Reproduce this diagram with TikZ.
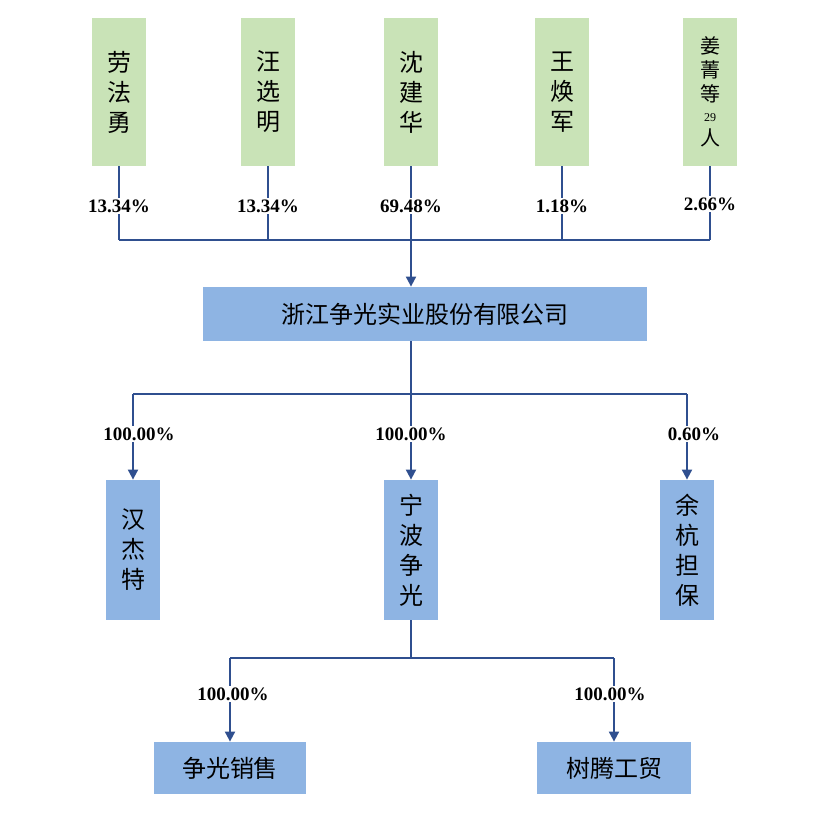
\documentclass[tikz,border=0pt]{standalone}
\usepackage{fontspec}
\setmainfont{Liberation Serif}
\newfontfamily\cjk{Noto Sans CJK SC}
\usetikzlibrary{arrows.meta}
\definecolor{holdgreen}{HTML}{C9E3B7}
\definecolor{firmblue}{HTML}{8EB4E3}
\definecolor{linkblue}{HTML}{2F4F8F}
\tikzset{
  holder/.style={fill=holdgreen,minimum width=27pt,minimum height=74pt,inner sep=0pt,align=center,font=\cjk\fontsize{12}{15}\selectfont},
  firm/.style={fill=firmblue,inner sep=0pt,align=center,font=\cjk\fontsize{12}{15}\selectfont},
  pct/.style={font=\bfseries\fontsize{9.5}{11}\selectfont,fill=white,inner sep=1pt},
  link/.style={draw=linkblue,line width=0.9pt},
  arr/.style={link,-{Triangle[length=5pt,width=5pt]}}
}
\begin{document}
\begin{tikzpicture}[x=0.5pt,y=-0.5pt]
\useasboundingbox (0,0) rectangle (815,821);

% shareholders
\node [holder] (h1) at (119,92) {劳\\法\\勇};
\node [holder] (h2) at (268,92) {汪\\选\\明};
\node [holder] (h3) at (411,92) {沈\\建\\华};
\node [holder] (h4) at (562,92) {王\\焕\\军};
\node [holder,font=\cjk\fontsize{10}{12}\selectfont] (h5) at (710,92) {姜\\菁\\等\\[-2pt]{\fontsize{6}{7}\selectfont\rmfamily 29}\\人};

% main company
\node [firm,minimum width=222pt,minimum height=27pt] (m) at (425,314) {浙江争光实业股份有限公司};

% subsidiaries
\node [firm,minimum width=27pt,minimum height=70pt] (s1) at (133,550) {汉\\杰\\特};
\node [firm,minimum width=27pt,minimum height=70pt] (s2) at (411,550) {宁\\波\\争\\光};
\node [firm,minimum width=27pt,minimum height=70pt] (s3) at (687,550) {余\\杭\\担\\保};
\node [firm,minimum width=76pt,minimum height=26pt] (g1) at (230,768) {争光销售};
\node [firm,minimum width=77pt,minimum height=26pt] (g2) at (614,768) {树腾工贸};

% holdings into main company
\coordinate (bus) at (411,240);
\foreach \h in {h1,h2,h4,h5}
  \draw [link] (\h.south) -- (\h.south |- bus);
\draw [link] (h1.south |- bus) -- (h5.south |- bus);
\draw [arr] (h3.south) -- (m.north -| h3.south);
\node [pct] at (119,206) {13.34\%};
\node [pct] at (268,206) {13.34\%};
\node [pct] at (411,206) {69.48\%};
\node [pct] at (562,206) {1.18\%};
\node [pct] at (710,204) {2.66\%};

% main company to subsidiaries
\coordinate (row) at (411,394);
\draw [link] (m.south -| row) -- (row);
\draw [link] (s1.north |- row) -- (s3.north |- row);
\foreach \s in {s1,s2,s3}
  \draw [arr] (\s.north |- row) -- (\s.north);
\node [pct] at (139,434) {100.00\%};
\node [pct] at (411,434) {100.00\%};
\node [pct] at (694,434) {0.60\%};

% ningbo to its subsidiaries
\coordinate (low) at (411,658);
\draw [link] (s2.south) -- (low);
\draw [link] (g1.north |- low) -- (g2.north |- low);
\foreach \g in {g1,g2}
  \draw [arr] (\g.north |- low) -- (\g.north);
\node [pct] at (233,694) {100.00\%};
\node [pct] at (610,694) {100.00\%};
\end{tikzpicture}
\end{document}
